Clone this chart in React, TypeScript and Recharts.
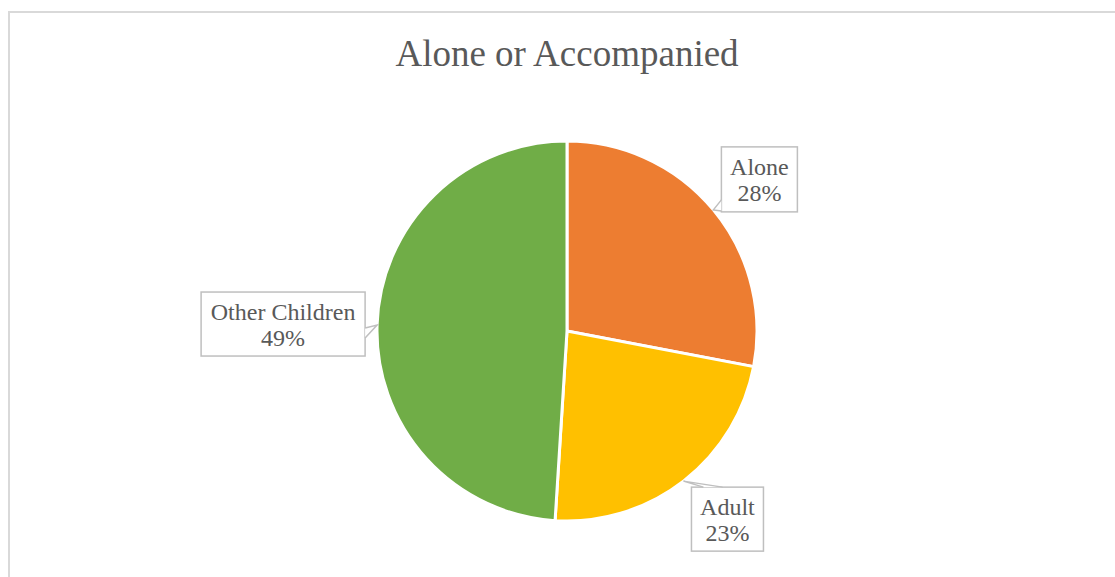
import { PieChart, Pie, Cell } from "recharts";

const categories = ["Alone", "Adult", "Other Children"];
const shares = [28, 23, 49];
const sliceColors = ["#ED7D31", "#FFC000", "#70AD47"];

const pieData = categories.map((name, i) => ({ name, value: shares[i] }));

const TEXT = "#595959";
const FONT = "'Liberation Serif', 'Times New Roman', serif";
const RAD = Math.PI / 180;

// callout box placement relative to the point on the arc at the slice middle
const callouts: Record<
  string,
  { dx: number; dy: number; w: number; h: number; tail: "left" | "right" | "top"; t1: number; t2: number }
> = {
  Alone: { dx: 8, dy: -63, w: 76, h: 65, tail: "left", t1: 53, t2: 64 },
  Adult: { dx: 8, dy: 6, w: 72, h: 64, tail: "top", t1: 12, t2: 31 },
  "Other Children": { dx: -176, dy: -33, w: 164, h: 64, tail: "right", t1: 36, t2: 46 },
};

function renderCallout(props: any) {
  const { cx, cy, midAngle, outerRadius, name, percent } = props;
  const ax = cx + outerRadius * Math.cos(-midAngle * RAD);
  const ay = cy + outerRadius * Math.sin(-midAngle * RAD);
  const c = callouts[name];
  if (!c) return null;
  const x = ax + c.dx;
  const y = ay + c.dy;
  let b1: [number, number];
  let b2: [number, number];
  if (c.tail === "left") {
    b1 = [x, y + c.t1];
    b2 = [x, y + c.t2];
  } else if (c.tail === "right") {
    b1 = [x + c.w, y + c.t1];
    b2 = [x + c.w, y + c.t2];
  } else {
    b1 = [x + c.t1, y];
    b2 = [x + c.t2, y];
  }
  const pct = `${Math.round(percent * 100)}%`;
  return (
    <g key={`callout-${name}`}>
      <rect x={x} y={y} width={c.w} height={c.h} fill="#fff" stroke="#BFBFBF" strokeWidth={1.5} />
      <path d={`M${b1[0]},${b1[1]} L${ax},${ay} L${b2[0]},${b2[1]} Z`} fill="#fff" stroke="none" />
      <polyline
        points={`${b1[0]},${b1[1]} ${ax},${ay} ${b2[0]},${b2[1]}`}
        fill="none"
        stroke="#BFBFBF"
        strokeWidth={1.5}
      />
      <text x={x + c.w / 2} y={y + 28} textAnchor="middle" fontFamily={FONT} fontSize={24} fill={TEXT}>
        {name}
      </text>
      <text x={x + c.w / 2} y={y + 54} textAnchor="middle" fontFamily={FONT} fontSize={24} fill={TEXT}>
        {pct}
      </text>
    </g>
  );
}

export default function App() {
  return (
    <div
      style={{
        position: "absolute",
        left: 0,
        top: 0,
        width: 1115,
        height: 577,
        overflow: "hidden",
        background: "#fff",
      }}
    >
      <div
        style={{
          position: "absolute",
          left: 8,
          top: 11,
          width: 1130,
          height: 620,
          border: "2px solid #D9D9D9",
        }}
      />
      <div style={{ position: "absolute", left: 0, top: 0 }}>
        <PieChart width={1115} height={577} margin={{ top: 0, right: 0, bottom: 0, left: 0 }}>
          <text x={567} y={66} textAnchor="middle" fontFamily={FONT} fontSize={37} fill={TEXT}>
            Alone or Accompanied
          </text>
          <Pie
            data={pieData}
            dataKey="value"
            nameKey="name"
            cx={567}
            cy={331}
            outerRadius={190}
            startAngle={90}
            endAngle={-270}
            stroke="#fff"
            strokeWidth={3}
            label={renderCallout}
            labelLine={false}
            isAnimationActive={false}
          >
            {pieData.map((d, i) => (
              <Cell key={d.name} fill={sliceColors[i]} />
            ))}
          </Pie>
        </PieChart>
      </div>
    </div>
  );
}
